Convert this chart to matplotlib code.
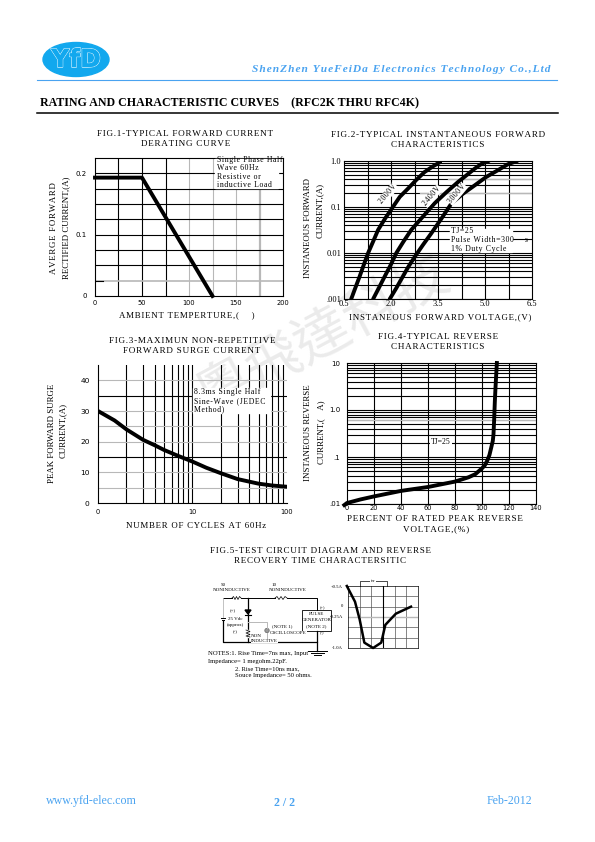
import numpy as np
import matplotlib
matplotlib.use('Agg')
import matplotlib.pyplot as plt
from matplotlib.patches import Ellipse, Rectangle, Circle
import matplotlib.patheffects as pe

plt.rcParams['font.family'] = ['Liberation Serif', 'DejaVu Sans']

W, H = 595, 842
BLUE = '#4aa3f0'
GREY = '#b8b8b8'

# fig 1 derating
temp = [0, 50, 125]
derate = [0.193, 0.193, 0.0]
fig1_xticks = [0, 50, 100, 150, 200]
fig1_yticks = [0, 0.1, 0.2]
fig1_ylabels = ['0', '0.1', '0.2']

# fig 2 forward characteristics
v_2000 = [0.73, 0.86, 1.0, 1.13, 1.27, 1.43, 1.59, 1.81, 2.06, 2.28, 2.54, 2.81, 3.07, 3.34, 3.57]
i_2000 = [0.001, 0.00173, 0.0031, 0.0055, 0.01, 0.0178, 0.032, 0.056, 0.1, 0.166, 0.25, 0.39, 0.575, 0.766, 0.95]
v_2400 = [1.43, 1.61, 1.80, 1.99, 2.17, 2.40, 2.65, 3.02, 3.39, 3.77, 4.14, 4.41, 4.67, 4.89, 5.12]
i_2400 = [0.001, 0.00173, 0.0031, 0.0055, 0.01, 0.0178, 0.032, 0.062, 0.12, 0.21, 0.35, 0.49, 0.68, 0.87, 1.0]
v_3000 = [1.96, 2.17, 2.38, 2.56, 2.76, 3.02, 3.29, 3.61, 3.93, 4.30, 4.67, 5.04, 5.41, 5.73, 6.03]
i_3000 = [0.001, 0.00173, 0.0031, 0.0051, 0.0083, 0.015, 0.027, 0.056, 0.12, 0.195, 0.295, 0.45, 0.63, 0.85, 1.0]
fig2_xticks = [0.5, 2.0, 3.5, 5.0, 6.5]
fig2_yticks = [0.001, 0.01, 0.1, 1.0]
fig2_ylabels = ['.001', '0.01', '0.1', '1.0']

# fig 3 surge current
cycles = [1, 1.5, 2, 3, 4, 5, 7, 10, 14, 20, 30, 50, 70, 100]
surge = [30, 26.9, 24, 20.6, 18.8, 17.3, 15.4, 13.5, 11.5, 9.7, 7.8, 6.3, 5.7, 5.3]
fig3_xticks = [1, 10, 100]
fig3_xlabels = ['0', '10', '100']
fig3_yticks = [0, 10, 20, 30, 40]

# fig 4 reverse characteristics
pct = [-2, 0, 10, 20, 40, 60, 80, 90, 95, 100, 102, 104, 105.5, 107, 108, 108.5, 109, 109.5, 110, 111]
irev = [0.0095, 0.0105, 0.0125, 0.0145, 0.019, 0.023, 0.03, 0.037, 0.043, 0.0575, 0.066, 0.085, 0.11, 0.166, 0.22, 0.3,
        0.62, 1.5, 3, 10]
fig4_xticks = [0, 20, 40, 60, 80, 100, 120, 140]
fig4_yticks = [0.01, 0.1, 1, 10]
fig4_ylabels = ['.01', '.1', '1.0', '10']

# fig 5 recovery trace
t_div = [-0.1, 0.6, 1.0, 1.4, 2.15, 2.85, 3.2, 4.1, 5.4]
i_rec = [0.5, 0.12, -0.31, -0.87, -1.0, -0.87, -0.44, -0.17, 0.0]


def sp(s):
    # the datasheet captions are letterspaced
    return '\u200a'.join(s)


def make_ax(fig, left, top, right, bottom):
    ax = fig.add_axes([left / W, 1 - bottom / H, (right - left) / W, (bottom - top) / H], zorder=2)
    ax.patch.set_visible(False)
    for s in ax.spines.values():
        s.set_linewidth(0.8)
    ax.tick_params(length=0, which='both')
    return ax


def log_lines(ax, lo, hi):
    for d in range(lo, hi):
        for m in range(1, 10):
            ax.axhline(m * 10.0 ** d, color='k', lw=0.8, zorder=1)


fig = plt.figure(figsize=(W / 100, H / 100), dpi=100)

back = fig.add_axes([0, 0, 1, 1], zorder=0)
back.set_xlim(0, W)
back.set_ylim(H, 0)
back.axis('off')
front = fig.add_axes([0, 0, 1, 1], zorder=3)
front.set_xlim(0, W)
front.set_ylim(H, 0)
front.axis('off')

# watermark
back.text(323, 335, '粵飛達科技', rotation=28, fontsize=40, color='#ebebeb', ha='center', va='center',
          family=['Noto Sans CJK TC', 'DejaVu Sans'])

# header
back.add_patch(Ellipse((76, 59.5), 66, 34, color='#12a8ee'))
back.text(76, 60, 'YfD', fontsize=18, weight='bold', family='DejaVu Sans', color='#12a8ee', ha='center', va='center',
          path_effects=[pe.withStroke(linewidth=1.0, foreground='#d8f2ff'), pe.Normal()])
front.text(550, 70, sp('ShenZhen YueFeiDa Electronics Technology Co.,Ltd'), style='italic', weight='bold',
           fontsize=8.2, color=BLUE, ha='right', va='center')
front.plot([37, 557], [79.5, 79.5], color=BLUE, lw=0.8)
front.text(40, 103, 'RATING AND CHARACTERISTIC CURVES    (RFC2K THRU RFC4K)', weight='bold', fontsize=8.6,
           va='center')
front.plot([37, 558], [112.5, 112.5], color='k', lw=1.1)

# footer
front.text(46, 801, 'www.yfd-elec.com', fontsize=8.6, color=BLUE, va='center')
front.text(285, 803, '2 / 2', fontsize=8.6, weight='bold', color=BLUE, ha='center', va='center')
front.text(532, 801, 'Feb-2012', fontsize=8.6, color=BLUE, ha='right', va='center')

# FIG 1
ax1 = make_ax(fig, 95, 158, 283, 296)
for x in [25, 50, 75]:
    ax1.axvline(x, color='k', lw=0.8, zorder=1)
for x in [100, 125, 150]:
    ax1.axvline(x, color=GREY, lw=0.8, zorder=1)
ax1.axvline(175, color=GREY, lw=1.6, zorder=1)
for y in np.arange(0.05, 0.225, 0.025):
    ax1.axhline(y, color='k', lw=0.8, zorder=1)
ax1.axhline(0.025, color=GREY, lw=1.2, zorder=1)
ax1.plot([0, 8], [0.025, 0.025], color='k', lw=0.8, zorder=2)
ax1.plot(temp, derate, color='k', lw=2.8, zorder=3, clip_on=False)
ax1.set_xlim(0, 200)
ax1.set_ylim(0, 0.225)
ax1.set_xticks(fig1_xticks, [str(t) for t in fig1_xticks], fontsize=4.8, family='DejaVu Sans')
ax1.set_yticks(fig1_yticks, fig1_ylabels, fontsize=5, family='DejaVu Sans')
ax1.tick_params(axis='x', pad=3)
ax1.tick_params(axis='y', pad=6)

front.add_patch(Rectangle((215, 158.6), 63, 29, color='w', zorder=1))
for y, t in zip([160, 168, 177, 185], ['Single Phase Half', 'Wave 60Hz', 'Resistive or', 'inductive Load']):
    front.text(217, y, sp(t), fontsize=5.6, va='center', zorder=2)
front.text(185, 134, sp('FIG.1-TYPICAL FORWARD CURRENT'), fontsize=6.6, ha='center', va='center')
front.text(186, 144, sp('DERATING CURVE'), fontsize=6.6, ha='center', va='center')
front.text(54, 228, sp('AVERGE FORWARD'), fontsize=6.4, rotation=90, ha='center', va='center')
front.text(66, 228, 'RECTIFIED CURRENT,(A)', fontsize=6.4, rotation=90, ha='center', va='center')
front.text(187, 315, sp('AMBIENT TEMPERTURE,(    )'), fontsize=6.4, ha='center', va='center')

# FIG 2
ax2 = make_ax(fig, 344, 161, 532, 299)
ax2.set_yscale('log')
log_lines(ax2, -3, 0)
for x in np.arange(1.25, 6.5, 0.75):
    ax2.axvline(x, color='k', lw=0.8, zorder=1)
ax2.plot([2.91, 6.5], [0.2, 0.2], color=GREY, lw=0.9, zorder=2)
ax2.plot([3.82, 6.5], [0.4, 0.4], color=GREY, lw=0.9, zorder=2)
for v, i in [(v_2000, i_2000), (v_2400, i_2400), (v_3000, i_3000)]:
    ax2.plot(v, i, color='k', lw=2.8, zorder=3, solid_capstyle='round')
ax2.set_xlim(0.5, 6.5)
ax2.set_ylim(0.001, 1.0)
ax2.set_xticks(fig2_xticks, [str(t) for t in fig2_xticks], fontsize=6)
ax2.set_yticks(fig2_yticks, fig2_ylabels, fontsize=6)
ax2.minorticks_off()
ax2.tick_params(axis='x', pad=0.5)
ax2.tick_params(axis='y', pad=2)

front.add_patch(Rectangle((450, 229), 62, 23, color='w', zorder=1))
for y, t in zip([231, 240, 249], ['TJ=25', 'Pulse Width=300    s', '1% Duty Cycle']):
    front.text(451, y, sp(t), fontsize=5.6, va='center', zorder=2)
for x, y, t in [(388, 194, '2000V'), (432, 196, '2400V'), (457, 194, '3000V')]:
    front.text(x, y, sp(t), fontsize=5.6, rotation=50, ha='center', va='center', rotation_mode='anchor',
               bbox=dict(fc='w', ec='none', pad=0.3))
front.text(438, 135, sp('FIG.2-TYPICAL INSTANTANEOUS FORWARD'), fontsize=6.6, ha='center', va='center')
front.text(438, 145, sp('CHARACTERISTICS'), fontsize=6.6, ha='center', va='center')
front.text(308, 228, 'INSTANEOUS FORWARD', fontsize=6.4, rotation=90, ha='center', va='center')
front.text(320, 210, 'CURRENT,(A)', fontsize=6.4, rotation=90, ha='center', va='center')
front.text(440, 317, sp('INSTANEOUS FORWARD VOLTAGE,(V)'), fontsize=6.4, ha='center', va='center')

# FIG 3
ax3 = make_ax(fig, 98, 365, 287, 503)
ax3.set_xscale('log')
for d in [1, 10]:
    for m in range(1, 10):
        if m * d > 1:
            ax3.axvline(m * d, color='k', lw=0.8, zorder=1)
for y in [5, 10, 20, 25, 30, 40]:
    ax3.axhline(y, color=GREY, lw=0.8, zorder=1)
for y in [15, 35]:
    ax3.axhline(y, color='k', lw=0.8, zorder=1)
ax3.plot(cycles, surge, color='k', lw=2.8, zorder=3)
ax3.set_xlim(1, 100)
ax3.set_ylim(0, 45)
ax3.set_xticks(fig3_xticks, fig3_xlabels, fontsize=4.8, family='DejaVu Sans')
ax3.set_yticks(fig3_yticks, [str(t) for t in fig3_yticks], fontsize=5.4, family='DejaVu Sans')
ax3.minorticks_off()
ax3.tick_params(axis='x', pad=4)
ax3.tick_params(axis='y', pad=6)
ax3.spines['top'].set_visible(False)
ax3.spines['right'].set_visible(False)

front.add_patch(Rectangle((193, 388), 77, 25, color='w', zorder=1))
for y, t in zip([392, 401, 409], ['8.3ms Single Half', 'Sine-Wave (JEDEC', 'Method)']):
    front.text(194, y, sp(t), fontsize=5.6, va='center', zorder=2)
front.text(192, 341, sp('FIG.3-MAXIMUN NON-REPETITIVE'), fontsize=6.6, ha='center', va='center')
front.text(192, 351, sp('FORWARD SURGE CURRENT'), fontsize=6.6, ha='center', va='center')
front.text(52, 433, 'PEAK FORWARD SURGE', fontsize=6.4, rotation=90, ha='center', va='center')
front.text(63, 430, 'CURRENT,(A)', fontsize=6.4, rotation=90, ha='center', va='center')
front.text(196, 526, sp('NUMBER OF CYCLES AT 60Hz'), fontsize=6.4, ha='center', va='center')

# FIG 4
ax4 = make_ax(fig, 347, 363, 536, 504)
ax4.set_yscale('log')
log_lines(ax4, -2, 1)
for x in range(20, 140, 20):
    ax4.axvline(x, color='k', lw=0.8, zorder=1)
ax4.axhline(0.6, color=GREY, lw=0.8, zorder=2)
ax4.plot(pct, irev, color='k', lw=2.8, zorder=3, clip_on=False)
ax4.set_xlim(0, 140)
ax4.set_ylim(0.01, 10)
ax4.set_xticks(fig4_xticks, [str(t) for t in fig4_xticks], fontsize=4.8, family='DejaVu Sans')
ax4.set_yticks(fig4_yticks, fig4_ylabels, fontsize=5, family='DejaVu Sans')
ax4.minorticks_off()
ax4.tick_params(axis='x', pad=0.5)
ax4.tick_params(axis='y', pad=5)

front.text(441, 442, 'TJ=25', fontsize=5.6, ha='center', va='center', bbox=dict(fc='w', ec='none', pad=1))
front.text(438, 337, sp('FIG.4-TYPICAL REVERSE'), fontsize=6.6, ha='center', va='center')
front.text(438, 347, sp('CHARACTERISTICS'), fontsize=6.6, ha='center', va='center')
front.text(308, 433, 'INSTANEOUS REVERSE', fontsize=6.4, rotation=90, ha='center', va='center')
front.text(321, 432, 'CURRENT,(    A)', fontsize=6.4, rotation=90, ha='center', va='center')
front.text(435, 519, sp('PERCENT OF RATED PEAK REVERSE'), fontsize=6.6, ha='center', va='center')
front.text(436, 529, sp('VOLTAGE,(%)'), fontsize=6.6, ha='center', va='center')

# FIG 5 trace
ax5 = make_ax(fig, 348, 586, 418, 648)
for x in range(1, 6):
    ax5.axvline(x, color='#555555', lw=0.5, zorder=1)
for y in [-0.75, -0.5, 0.0, 0.25]:
    ax5.axhline(y, color='#555555', lw=0.5, zorder=1)
ax5.axhline(-0.25, color=GREY, lw=1.0, zorder=1)
ax5.axvline(3, color='k', lw=0.8, zorder=1)
ax5.plot(t_div, i_rec, color='k', lw=1.8, zorder=3, clip_on=False)
ax5.set_xlim(0, 6)
ax5.set_ylim(-1.0, 0.5)
ax5.set_xticks([])
ax5.set_yticks([])
for s in ax5.spines.values():
    s.set_linewidth(0.5)
for y, t in [(587, '+0.5A'), (606, '0'), (617, '-0.25A'), (648, '-1.0A')]:
    front.text(343, y, t, fontsize=3.4, ha='right', va='center')
front.plot([360, 360, 387, 387], [586, 581, 581, 586], color='k', lw=0.5)
front.text(373, 581, 'trr', fontsize=3.4, ha='center', va='center', bbox=dict(fc='w', ec='none', pad=0.3))

# circuit
front.plot([223, 232], [598, 598], color='k', lw=0.7)
front.plot([232, 233.5, 235, 236.5, 238, 239.5, 241], [598, 596.5, 599.5, 596.5, 599.5, 596.5, 598], color='k', lw=0.5)
front.plot([241, 275], [598, 598], color='k', lw=0.7)
front.plot([275, 277, 279, 281, 283, 285, 287], [598, 596.5, 599.5, 596.5, 599.5, 596.5, 598], color='k', lw=0.5)
front.plot([287, 317, 317], [598, 598, 610], color='k', lw=0.7)
front.plot([223, 223], [598, 617], color=GREY, lw=0.6)
front.plot([221, 225], [618, 618], color='k', lw=0.7)
front.plot([222, 224], [620, 620], color='k', lw=0.7)
front.plot([223, 223, 317, 317], [621, 642, 642, 631], color='k', lw=0.9)
front.plot([248, 248], [598, 642], color='k', lw=0.9)
front.fill([245, 251, 248], [610, 610, 614], color='k')
front.plot([245, 251], [614.5, 614.5], color='k', lw=0.8)
front.plot([248, 267, 267], [622, 622, 628], color=GREY, lw=0.7)
front.add_patch(Circle((267, 630.5), 2.2, ec='#666666', fc='#999999', lw=0.5))
front.plot([267, 267], [633, 642], color=GREY, lw=0.7)
front.add_patch(Rectangle((302, 610), 29, 21, ec='k', fc='w', lw=0.6))
front.plot([248, 248], [630, 637], color='w', lw=1)
front.plot([246, 250, 246, 250, 246, 250], [630, 631.5, 633, 634.5, 636, 637], color='k', lw=0.5)
for x0, x1, y in [(308, 327, 651), (311, 324, 653), (314, 321, 655)]:
    front.plot([x0, x1], [y, y], color='k', lw=0.7)
front.plot([317, 317], [642, 651], color='k', lw=0.9)

cap = dict(fontsize=3.6, va='center', ha='center')
front.text(232, 590, 'NONINDUCTIVE', **cap)
front.text(226, 585, '50', fontsize=3.6, va='center', ha='right')
front.text(288, 590, 'NONINDUCTIVE', **cap)
front.text(277, 585, '10', fontsize=3.6, va='center', ha='right')
front.text(233, 611, '(+)', **cap)
front.text(235, 619, '25 Vdc', **cap)
front.text(235, 625, '(approx)', **cap)
front.text(235, 632, '(-)', **cap)
front.text(251, 636, 'NON', fontsize=3.6, va='center')
front.text(251, 641, 'INDUCTIVE', fontsize=3.6, va='center', bbox=dict(fc='w', ec='none', pad=0.2))
front.text(272, 626, '(NOTE 1)', fontsize=3.6, va='center')
front.text(270, 633, 'OSCILLOSCOPE', fontsize=3.6, va='center', bbox=dict(fc='w', ec='none', pad=0.2))
front.text(316.5, 614, 'PULSE', **cap)
front.text(316.5, 620, 'GENERATOR', **cap)
front.text(316.5, 626, '(NOTE 2)', **cap)
front.text(320, 608, '(+)', fontsize=3.2, va='center')
front.text(320, 633, '(-)', fontsize=3.2, va='center')

front.text(208, 654, 'NOTES:1. Rise Time=7ns max, Input', fontsize=4.8, va='center')
front.text(208, 662, 'Impedance= 1 megohm.22pF.', fontsize=4.8, va='center')
front.text(235, 669, '2. Rise Time=10ns max,', fontsize=4.8, va='center')
front.text(235, 676, 'Souce Impedance= 50 ohms.', fontsize=4.8, va='center')
front.text(320, 551, sp('FIG.5-TEST CIRCUIT DIAGRAM AND REVERSE'), fontsize=6.5, ha='center', va='center')
front.text(320, 561, sp('RECOVERY TIME CHARACTERSITIC'), fontsize=6.5, ha='center', va='center')

plt.savefig('out.png', dpi=100)
plt.close()
